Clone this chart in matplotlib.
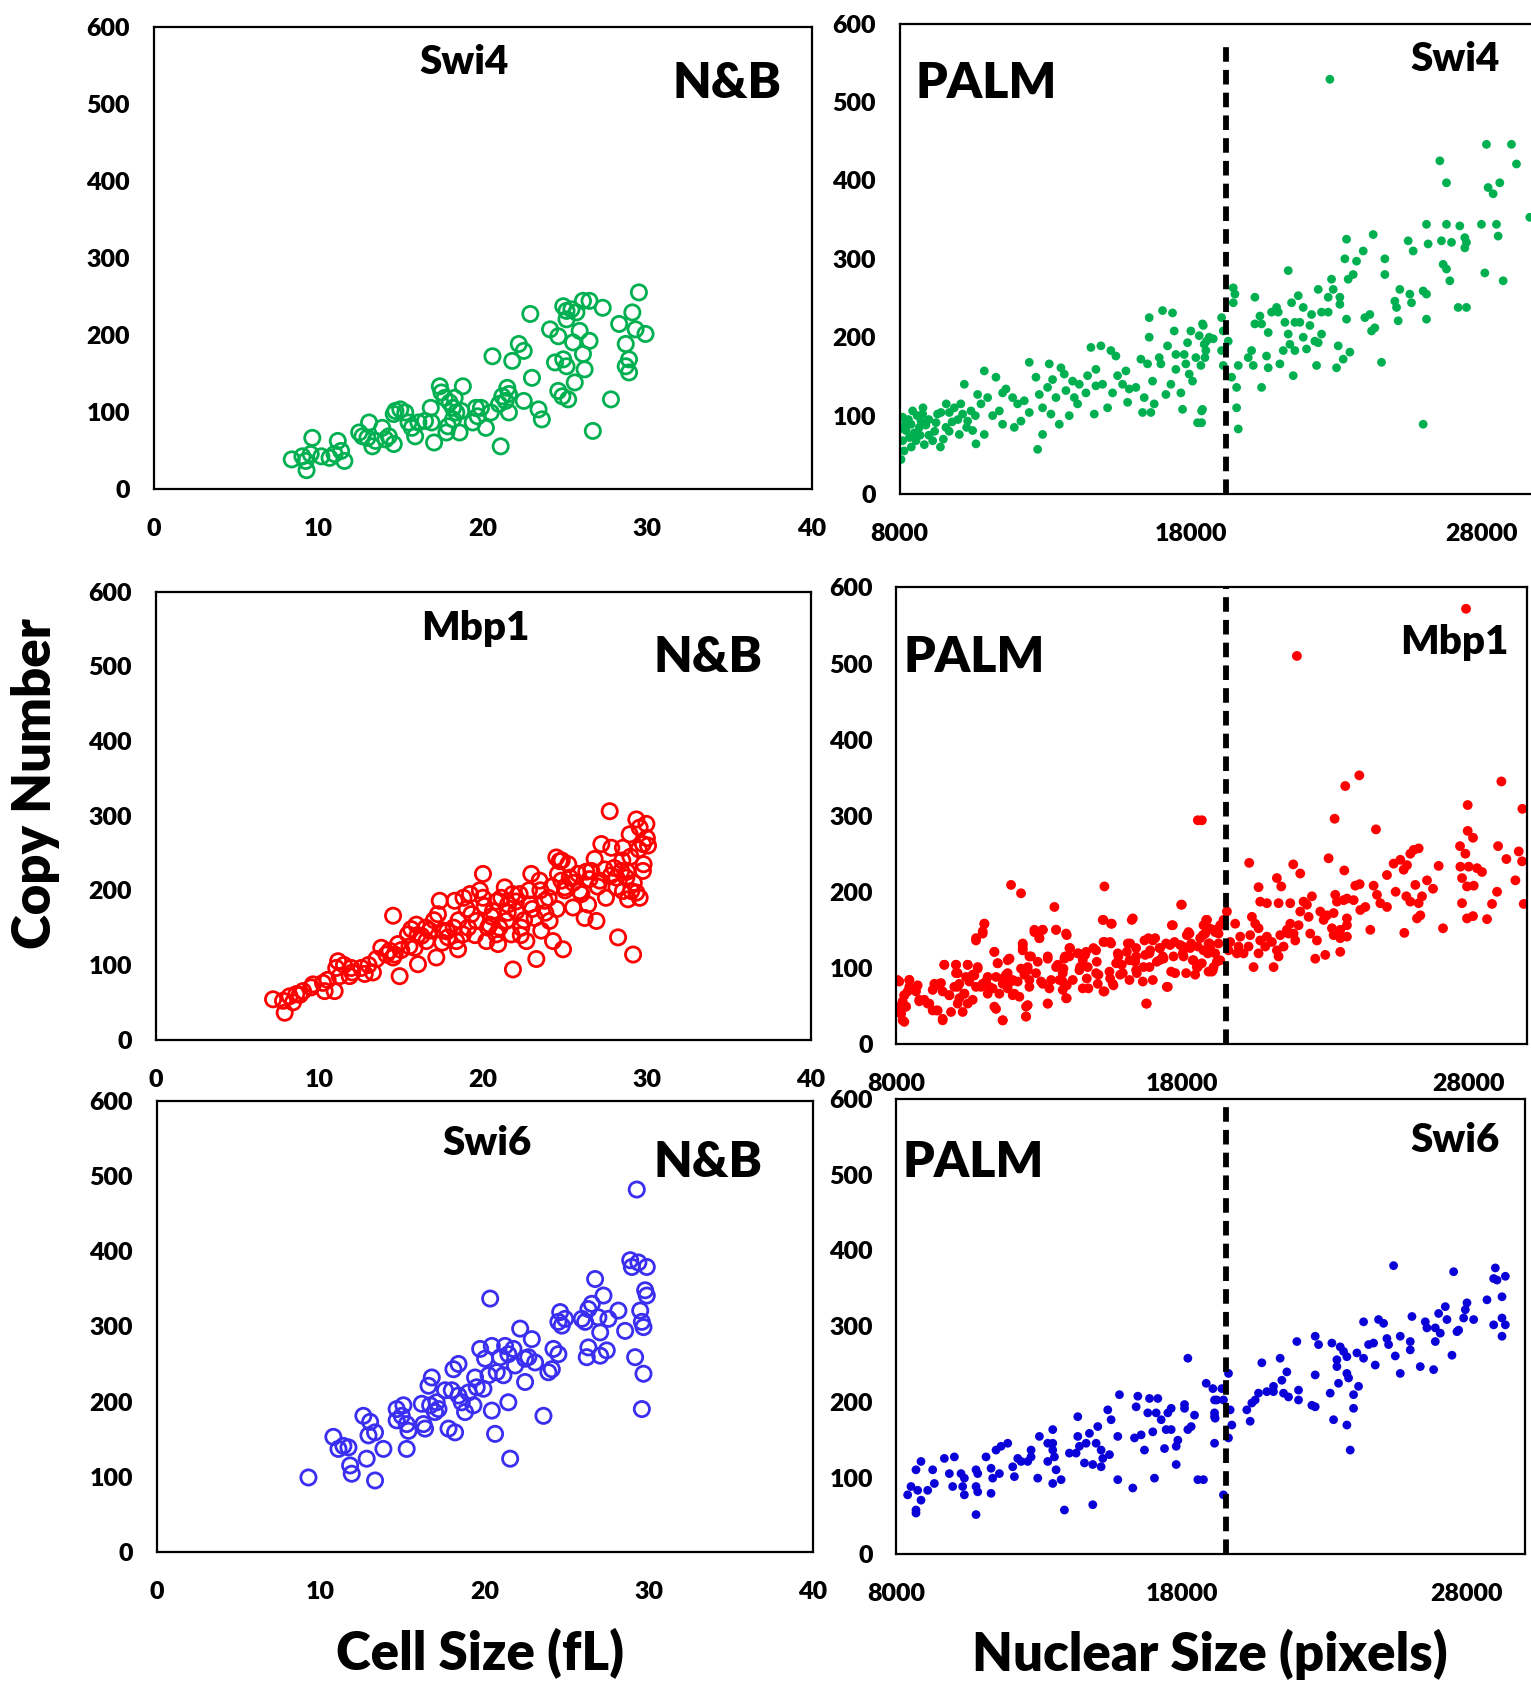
import numpy as np
import matplotlib
matplotlib.use("Agg")
import matplotlib.pyplot as plt

plt.rcParams['font.family'] = ['Lato', 'DejaVu Sans']
plt.rcParams['font.weight'] = 'heavy'

# ---- data: (size, copy number) ----
swi4_nb = [(8.4, 38), (9.3, 24), (9.05, 42), (9.65, 66), (9.55, 45), (9.25, 36), (10.2, 42), (10.7, 40),
           (11.0, 45), (11.2, 62), (11.4, 49), (11.6, 36), (12.5, 73), (13.1, 86), (13.0, 66), (13.5, 62),
           (13.9, 79), (14.1, 64), (14.6, 58), (14.3, 68), (12.7, 68), (13.3, 55), (14.7, 101), (15.0, 103),
           (15.3, 99), (14.6, 97), (15.5, 86), (15.7, 79), (15.9, 68), (16.1, 86), (16.5, 88), (16.9, 86),
           (17.05, 60), (16.85, 105), (17.4, 133), (17.5, 125), (17.7, 118), (18.0, 112), (18.2, 105),
           (18.4, 99), (18.2, 90), (17.9, 81), (17.8, 73), (18.6, 73), (18.8, 133), (18.3, 118), (18.7, 101),
           (19.6, 105), (19.9, 105), (19.7, 94), (19.4, 86), (20.2, 79), (20.5, 99), (20.6, 172), (21.1, 55),
           (21.0, 110), (21.2, 120), (21.5, 131), (21.6, 123), (21.4, 114), (21.6, 99), (21.8, 166),
           (22.2, 188), (22.5, 179), (22.9, 227), (22.5, 114), (23.0, 144), (23.4, 103), (23.6, 90),
           (24.1, 207), (24.6, 198), (24.9, 237), (25.1, 231), (25.4, 233), (25.7, 229), (25.1, 220),
           (26.1, 244), (26.5, 244), (27.3, 235), (25.9, 205), (25.5, 190), (26.5, 192), (26.1, 175),
           (24.4, 164), (24.9, 168), (25.1, 159), (26.2, 155), (25.6, 138), (24.6, 127), (24.85, 120),
           (25.2, 116), (26.7, 75), (27.8, 116), (29.5, 255), (29.1, 229), (28.3, 214), (29.3, 207),
           (29.9, 201), (28.7, 188), (28.9, 168), (28.7, 159), (28.9, 151)]

swi4_palm = [(8045, 44), (8100, 98), (8445, 106), (8390, 89), (8675, 85), (8216, 81), (8560, 68), (8846, 63),
             (8100, 68), (8789, 102), (8730, 93), (8330, 72), (8010, 83), (8300, 95), (8500, 78), (8900, 88),
             (9000, 75), (9300, 102), (9500, 70), (9800, 92), (10100, 115), (8150, 55), (8600, 100),
             (8200, 90), (8400, 60), (8700, 75), (9000, 95), (9200, 80), (9400, 60), (9700, 80), (10000, 95),
             (10300, 85), (10600, 100), (8800, 110), (9600, 115),
             (9133, 68), (9247, 91), (9419, 104), (9590, 85), (9705, 104), (9877, 110), (10048, 76),
             (10163, 102), (10220, 140), (10335, 93), (10450, 106), (10506, 81), (10621, 64), (10678, 127),
             (10793, 115), (10907, 157), (10907, 76), (11022, 123), (11194, 100), (11308, 149), (11423, 106),
             (11537, 89), (11537, 129), (11651, 134), (11880, 123), (11938, 85), (12052, 115), (12167, 93),
             (12281, 119), (12453, 168), (12453, 104), (12682, 149), (12740, 57), (12797, 127), (12911, 110),
             (12911, 76), (13083, 136), (13140, 166), (13197, 102), (13254, 146), (13369, 123), (13484, 89),
             (13541, 161), (13655, 153), (13713, 132), (13827, 100), (13942, 144), (14000, 123), (14113, 115),
             (14171, 140), (14400, 129), (14457, 151), (14571, 187), (14686, 102), (14743, 159), (14743, 138),
             (14915, 189), (14972, 140), (15144, 110), (15258, 183), (15315, 129), (15430, 176), (15487, 151),
             (15659, 140), (15774, 157), (15831, 117), (15888, 134), (16117, 136), (16289, 172), (16346, 104),
             (16403, 123), (16517, 166), (16575, 225), (16575, 200), (16632, 104), (16690, 144), (16746, 115),
             (16919, 174), (16976, 166), (17033, 234), (17148, 127), (17205, 189), (17320, 140), (17376, 231),
             (17434, 208), (17491, 178), (17491, 159), (17663, 129), (17720, 108), (17777, 178), (17834, 166),
             (17892, 193), (17949, 153), (18006, 208), (18064, 144), (18178, 174), (18236, 91), (18293, 202),
             (18350, 164), (18407, 217), (18465, 191), (18522, 183), (18636, 200), (18407, 108),
             (22784, 529), (18433, 215), (18547, 195), (18776, 198), (18490, 174), (18375, 106), (18375, 91),
             (19062, 225), (19120, 208), (19062, 183), (19120, 164), (19291, 195), (19463, 263), (19520, 255),
             (19463, 244), (19406, 149), (19578, 136), (19578, 110), (19635, 164), (19635, 83), (19978, 174),
             (20093, 183), (20150, 164), (20207, 251), (20207, 217), (20379, 227), (20436, 217), (20436, 136),
             (20608, 176), (20665, 206), (20665, 161), (20780, 232), (20952, 238), (21009, 232), (21066, 166),
             (21181, 183), (21238, 219), (21352, 285), (21352, 204), (21410, 191), (21467, 244), (21524, 151),
             (21581, 219), (21581, 183), (21696, 253), (21753, 219), (21868, 238), (21868, 200), (21982, 185),
             (22097, 215), (22154, 229), (22268, 195), (22326, 164), (22383, 193), (22383, 261), (22497, 204),
             (22497, 232), (22726, 232), (22726, 251), (22841, 274), (22898, 261), (23012, 161), (23070, 189),
             (23127, 251), (23127, 242), (23241, 172), (23356, 223), (23356, 325), (23299, 300), (23413, 274),
             (23471, 181), (23585, 280), (23700, 297), (23929, 310), (23986, 225), (24157, 229), (24215, 208),
             (24329, 212), (24272, 331), (24558, 168), (24673, 300), (24673, 280), (25016, 246), (25074, 238),
             (25131, 221), (25188, 261), (25531, 255), (25589, 244), (25474, 323), (25646, 310), (25989, 89),
             (25989, 259), (26104, 255), (26104, 223), (26104, 344), (26161, 319), (26562, 425), (26619, 323),
             (26676, 293), (26791, 287), (26791, 397), (26791, 344), (26906, 272), (26963, 321), (27192, 238),
             (27478, 238), (27249, 342), (27421, 327), (27478, 321), (27421, 314), (27993, 344), (28108, 282),
             (28165, 446), (28222, 391), (28394, 383), (28509, 344), (28566, 329), (28623, 397), (28738, 272),
             (29024, 446), (29196, 421), (29654, 353)]

mbp1_nb = [(7.17, 54), (7.88, 36), (7.78, 52), (8.18, 58), (8.59, 61), (8.39, 50), (9.0, 65), (9.61, 74),
           (10.22, 76), (10.32, 65), (10.93, 65), (11.14, 105), (11.03, 96), (11.24, 85), (11.85, 85),
           (11.95, 96), (12.56, 96), (12.77, 88), (13.27, 90), (13.48, 108), (13.78, 123), (14.09, 114),
           (14.29, 119), (14.6, 114), (14.5, 166), (14.9, 85), (14.8, 128), (15.41, 141), (15.61, 148),
           (15.92, 154), (15.82, 123), (16.02, 101), (16.23, 139), (16.53, 132), (16.74, 146), (17.14, 110),
           (17.24, 168), (17.35, 186), (17.55, 146), (17.85, 137), (18.26, 186), (18.36, 132), (18.47, 121),
           (18.77, 141), (19.08, 150), (19.28, 168), (19.59, 159), (19.99, 222), (19.99, 190), (20.09, 179),
           (20.2, 132), (20.4, 154), (20.6, 172), (20.81, 141), (20.91, 128), (21.11, 190), (21.32, 204),
           (21.42, 159), (21.52, 181), (21.72, 141), (21.82, 94), (22.03, 172), (22.23, 195), (22.33, 150),
           (22.64, 132), (22.84, 181), (22.94, 222), (23.15, 163), (23.25, 108), (23.45, 213), (23.55, 146),
           (23.76, 186), (24.06, 159), (24.27, 132), (24.47, 244), (24.57, 222), (24.67, 239), (24.78, 213),
           (24.88, 121), (24.98, 204), (25.29, 217), (25.49, 177), (25.8, 222), (25.9, 199), (26.2, 163),
           (26.41, 181), (26.61, 226), (26.81, 242), (26.92, 159), (27.12, 213), (27.22, 262), (27.42, 228),
           (27.73, 306), (27.83, 257), (28.14, 204), (28.24, 137), (28.44, 226), (28.54, 257), (28.75, 217),
           (28.95, 275), (29.05, 199), (29.16, 114), (29.36, 295), (29.56, 284), (29.76, 262), (29.97, 289),
           (30.07, 260), (29.76, 226), (29.56, 190), (29.36, 197), (28.85, 188), (28.14, 217), (28.54, 199),
           (18.5, 160), (19.0, 175), (19.5, 140), (20.5, 165), (21.0, 150), (21.5, 170), (22.0, 185),
           (22.5, 160), (23.0, 175), (23.5, 200), (24.0, 190), (24.5, 175), (25.0, 200), (25.5, 210),
           (26.0, 195), (26.5, 215), (27.0, 205), (27.5, 190), (28.0, 230), (28.5, 240), (29.0, 245),
           (29.5, 255), (30.0, 270), (16.5, 150), (17.0, 160), (17.5, 130), (16.0, 140), (15.5, 125),
           (15.0, 120), (14.5, 110), (13.0, 100), (12.0, 90), (11.5, 100), (10.5, 80), (9.5, 70), (8.8, 60),
           (24.2, 205), (25.2, 235), (24.8, 240), (22.8, 200), (21.8, 195), (20.8, 185), (19.8, 200),
           (19.2, 195), (18.8, 190), (26.3, 225), (27.8, 220), (28.8, 225), (29.2, 210), (29.8, 235),
           (23.8, 170), (22.3, 140), (20.3, 150), (18.2, 150), (17.8, 145)]

mbp1_palm = [(18543, 294), (12008, 209), (12358, 198), (15276, 207), (13525, 180), (17960, 183), (11075, 158),
             (11016, 145), (10783, 136), (12825, 147), (13117, 150), (13000, 139), (13584, 150), (13934, 145),
             (15218, 163), (15509, 158), (16268, 165), (17668, 156), (18251, 145), (18835, 163), (18952, 152),
             (11424, 121), (12417, 130), (12417, 123), (11891, 110), (11541, 106), (12650, 115), (13292, 112),
             (14050, 126), (14342, 119), (14634, 121), (14984, 123), (15276, 134), (15509, 132), (15743, 119),
             (16093, 132), (16384, 126), (16676, 136), (16968, 136), (17201, 126), (17435, 132), (17727, 134),
             (18018, 128), (18310, 132), (18543, 128), (18718, 143), (18952, 132), (18543, 101), (18134, 93),
             (17610, 95), (17201, 110), (16851, 101), (16618, 82), (16735, 53), (17493, 75), (16151, 110),
             (15918, 93), (15567, 79), (15276, 69), (14984, 93), (14692, 101), (14400, 97), (14167, 84),
             (13934, 60), (13817, 93), (13584, 101), (13409, 84), (13292, 53), (13117, 79), (12883, 93),
             (12591, 101), (12650, 75), (12533, 49), (12533, 36), (12300, 62), (11950, 112), (11891, 93),
             (11716, 79), (11599, 66), (11424, 49), (11716, 31), (11250, 75), (11016, 79), (10841, 101),
             (10491, 104), (10432, 88), (10199, 79), (10083, 104), (10024, 75), (10374, 66), (10491, 53),
             (10141, 53), (9674, 104), (9849, 64), (9616, 33), (9499, 79), (9324, 79), (9266, 71), (9149, 53),
             (9382, 44), (8974, 58), (8799, 58), (8682, 73), (8449, 84), (8390, 69), (8274, 64), (8215, 53),
             (8040, 84), (8099, 49), (8332, 49), (8215, 31), (8157, 40), (8449, 75), (11191, 88), (10725, 90),
             (10783, 75), (11483, 88), (12066, 84), (12125, 66), (10083, 93), (14050, 115), (14517, 110),
             (15685, 106), (16384, 115), (16851, 119), (17318, 115), (18018, 119), (18368, 110), (18893, 119),
             (19068, 97), (13817, 82), (14517, 73), (15043, 79), (15451, 95), (16151, 84), (16968, 84),
             (16384, 97),
             (8099, 82), (8449, 84), (8274, 64), (8215, 56), (8332, 49), (8157, 40), (8274, 29), (8741, 77),
             (8682, 69), (8799, 56), (9091, 53), (9266, 44), (9382, 77), (9557, 80), (9616, 69), (9441, 44),
             (9849, 64), (9908, 42), (9616, 31), (9674, 104), (10083, 104), (10141, 93), (10141, 75),
             (10199, 60), (10374, 66), (10491, 104), (10549, 82), (10666, 91), (10666, 58), (10316, 42),
             (10841, 99), (10783, 139), (11016, 148), (11075, 158), (10958, 75), (11133, 82), (11191, 66),
             (11366, 73), (11424, 121), (11483, 46), (11541, 106), (11716, 86), (11716, 31), (11833, 91),
             (11950, 112), (11891, 73), (12008, 82), (12066, 64), (12241, 82), (12417, 126), (12417, 132),
             (12358, 99), (12475, 91), (12592, 97), (12592, 51), (12533, 36), (12650, 84), (12708, 115),
             (12825, 150), (12942, 108), (13000, 139), (13117, 150), (13058, 82), (13292, 115), (13350, 73),
             (13292, 53), (13584, 150), (13642, 104), (13700, 84), (13817, 71), (13876, 112),
             (13957, 143), (14074, 126), (13899, 115), (13841, 99), (13957, 77), (13957, 60), (14366, 119),
             (14424, 101), (14600, 117), (14658, 86), (14716, 73), (14891, 126), (15008, 108), (15066, 91),
             (15241, 163), (15533, 158), (15241, 134), (15475, 134), (15241, 69), (15475, 86), (15591, 77),
             (15766, 115), (15883, 104), (15825, 91), (16058, 121), (16175, 132), (16233, 163), (16350, 108),
             (16408, 93), (16641, 101), (16700, 117), (16758, 53), (16816, 139), (16875, 123), (17050, 139),
             (17108, 108), (17225, 126), (17342, 112), (17458, 75), (17575, 130), (17634, 156), (17692, 115),
             (17750, 93), (17925, 130), (17983, 183), (18042, 115), (18158, 143), (18217, 147), (18275, 126),
             (18392, 110), (18450, 91), (18508, 101), (18625, 139), (18742, 156), (18858, 163), (18975, 126),
             (19034, 95), (19150, 147), (19209, 108), (19267, 132), (19326, 156),
             (27927, 572), (22010, 510), (18684, 294), (24193, 353), (23702, 339), (23329, 296), (24776, 282),
             (29164, 345), (27985, 314), (27985, 280), (28172, 271), (29899, 309), (27717, 260), (29048, 260),
             (27904, 250), (25978, 250), (26270, 257), (26095, 255), (25628, 242), (25395, 237), (25861, 235),
             (25745, 229), (25161, 222), (23119, 244), (23668, 228), (20341, 238), (21882, 236), (22127, 224),
             (21310, 218), (21462, 207), (20668, 206), (24053, 208), (24204, 210), (24694, 208), (24811, 196),
             (26153, 209), (26562, 215), (26772, 204), (26970, 234), (27729, 233), (28021, 233), (28312, 231),
             (28487, 226), (27787, 218), (27962, 207), (28196, 208), (29771, 253), (29888, 240), (29654, 215),
             (29339, 243), (29013, 200), (25465, 200), (25838, 194), (25978, 187), (26270, 185), (26387, 194),
             (26328, 169), (26212, 165), (27787, 185), (28837, 184), (27962, 165), (28172, 168), (28662, 164),
             (29946, 184), (27122, 152), (25768, 146), (25161, 180), (24928, 185), (24578, 150), (24228, 176),
             (24403, 180), (23994, 189), (23760, 191), (23352, 196), (23410, 187), (23760, 165), (23760, 156),
             (23527, 150), (23236, 152), (23294, 143), (23527, 139), (23760, 141), (23527, 121), (23002, 117),
             (22652, 112), (22711, 136), (22477, 145), (22419, 167), (22360, 183), (22535, 194), (22244, 187),
             (22127, 174), (22069, 156), (21952, 136), (21719, 145), (21777, 158), (21660, 150), (21427, 143),
             (21310, 123), (21194, 101), (21135, 134), (20960, 141), (20901, 128), (20726, 136), (20668, 152),
             (20552, 158), (20435, 167), (20726, 187), (20960, 185), (21369, 185), (21777, 185), (22828, 174),
             (22945, 163), (23061, 169), (23294, 172), (23644, 189), (20376, 143), (20318, 128), (20026, 141),
             (19968, 128), (19851, 158), (19676, 134), (19618, 123), (19910, 119), (20143, 119), (20493, 101),
             (20668, 119), (19560, 174), (19443, 163), (19268, 145), (19093, 150), (18859, 163), (18801, 145),
             (18918, 132), (18743, 123), (19151, 119), (19093, 101), (18918, 95), (19326, 110), (18684, 106),
             (21894, 145), (21369, 115), (21544, 128)]

swi6_nb = [(29.27, 482), (9.25, 99), (10.77, 153), (11.08, 137), (11.38, 141), (11.69, 139), (11.79, 115),
           (11.89, 104), (13.31, 95), (12.8, 124), (12.6, 181), (13.01, 173), (12.91, 155), (13.31, 159),
           (13.82, 137), (14.63, 190), (14.63, 175), (15.04, 195), (14.94, 181), (15.24, 170), (15.35, 161),
           (15.24, 137), (16.16, 197), (16.26, 170), (16.36, 164), (16.57, 221), (16.77, 232), (16.67, 195),
           (16.97, 186), (17.07, 199), (17.18, 190), (17.58, 215), (17.79, 164), (17.99, 215), (18.09, 243),
           (18.4, 250), (18.19, 159), (18.4, 208), (18.6, 199), (18.8, 186), (19.01, 212), (19.31, 195),
           (19.41, 232), (19.51, 219), (19.72, 270), (19.92, 217), (20.02, 257), (20.33, 337), (20.23, 235),
           (20.43, 274), (20.43, 188), (20.63, 157), (20.73, 239), (20.94, 259), (21.14, 235), (21.24, 274),
           (21.44, 263), (21.44, 199), (21.55, 124), (21.75, 270), (21.85, 248), (22.16, 297), (22.46, 226),
           (22.46, 257), (22.66, 259), (22.87, 283), (23.07, 252), (23.58, 181), (23.88, 239), (24.09, 243),
           (24.19, 270), (24.49, 263), (24.6, 319), (24.49, 306), (24.7, 301), (24.9, 310), (25.92, 310),
           (26.12, 306), (26.22, 259), (26.32, 272), (26.32, 323), (26.53, 330), (26.73, 363), (26.93, 312),
           (27.04, 292), (27.04, 261), (27.24, 341), (27.44, 268), (27.54, 310), (28.15, 321), (28.56, 294),
           (28.87, 388), (28.97, 379), (29.37, 385), (29.88, 379), (29.48, 321), (29.58, 306), (29.68, 299),
           (29.78, 348), (29.88, 341), (29.17, 259), (29.68, 237), (29.58, 190)]

swi6_palm = [(8392, 78), (8509, 89), (8684, 111), (8860, 122), (8743, 84), (8860, 71), (8684, 58), (8684, 54),
             (9094, 84), (9269, 111), (9328, 93), (9679, 126), (9854, 106), (10030, 128), (9971, 89),
             (10264, 106), (10381, 100), (10322, 89), (10381, 78), (10790, 111), (10790, 89), (10790, 52),
             (10849, 106), (10849, 82), (11141, 128), (11317, 113), (11375, 100), (11317, 80), (11492, 137),
             (11609, 106), (11668, 142), (11902, 146), (12077, 115), (12136, 102), (12253, 126), (12370, 122),
             (12603, 122), (12721, 137), (12721, 128), (12955, 100), (13013, 155), (13306, 146), (13306, 122),
             (13481, 164), (13481, 146), (13481, 137), (13540, 128), (13598, 111), (13481, 93), (13774, 98),
             (13891, 58), (14066, 133), (14300, 133), (14359, 181), (14359, 155), (14417, 142), (14593, 120),
             (14651, 146), (14768, 159), (14885, 118), (14885, 65), (15002, 146), (15060, 168), (15177, 137),
             (15177, 115), (15236, 126), (15470, 131), (15411, 190), (15528, 177), (15762, 155), (15762, 98),
             (15821, 210), (16289, 87), (16348, 153), (16465, 208), (16406, 194), (16581, 157), (16698, 137),
             (16815, 186), (16874, 205), (17049, 100), (16990, 161), (17108, 186), (17167, 205), (17284, 177),
             (17401, 139), (17459, 164), (17518, 186), (17635, 192), (17635, 164), (17811, 142), (17811, 118),
             (17869, 150), (18103, 197), (18103, 192), (18220, 164), (18220, 258), (18337, 168), (18454, 183),
             (18571, 98), (18863, 225), (19097, 218), (19156, 181), (19156, 146), (19156, 203), (19156, 186),
             (18767, 98), (19235, 203), (19177, 179), (19411, 218), (19469, 203), (19469, 78), (19645, 238),
             (19645, 153), (19703, 190), (19762, 170), (20288, 190), (20405, 175), (20464, 199), (20581, 203),
             (20698, 212), (20815, 252), (20990, 214), (21224, 221), (21224, 214), (21458, 258), (21517, 229),
             (21575, 212), (21692, 240), (21751, 207), (22043, 280), (22102, 216), (22102, 203), (22570, 196),
             (22687, 194), (22687, 287), (22804, 276), (22687, 236), (23213, 212), (23272, 278), (23330, 177),
             (23447, 256), (23447, 247), (23564, 273), (23505, 225), (23681, 267), (23798, 238), (23798, 260),
             (23857, 232), (23798, 170), (23915, 137), (24032, 210), (24032, 192), (24207, 221), (24149, 265),
             (24383, 258), (24383, 306), (24559, 276), (24734, 278), (24793, 249), (24909, 309), (25085, 304),
             (25202, 284), (25261, 276), (25495, 261), (25670, 287), (25670, 238), (26021, 280), (26021, 269),
             (26080, 313), (26372, 247), (26548, 306), (26606, 298), (26840, 243), (26899, 280), (26899, 298),
             (27074, 291), (27016, 317), (27250, 326), (27308, 309), (27542, 372), (27484, 262), (27659, 293),
             (27717, 295), (27893, 311), (27952, 322), (28010, 331), (28244, 309), (28712, 335), (28946, 302),
             (29005, 377), (28946, 363), (29063, 361), (29356, 366), (29239, 339), (29239, 311), (29356, 302),
             (29239, 287), (25436, 380)]

nb_ticks = [0, 10, 20, 30, 40]
palm_ticks = [8000, 18000, 28000]
copy_ticks = [0, 100, 200, 300, 400, 500, 600]

green = '#00B050'
red = '#FF0000'
blue_nb = '#3a2ef0'
blue_palm = '#0a00d8'

W, H = 1426.0, 1568.0  # layout measured on the shrunk reference


def rect(l, r, t, b):
    return [l / W, 1 - b / H, (r - l) / W, (b - t) / H]


fig = plt.figure(figsize=(15.31, 16.84), dpi=100)


def style(ax):
    for s in ax.spines.values():
        s.set_linewidth(1.6)
        s.set_color('black')
    ax.tick_params(length=0, labelsize=18)
    ax.tick_params(axis='x', pad=21)
    ax.tick_params(axis='y', pad=17)
    for lab in ax.get_xticklabels() + ax.get_yticklabels():
        lab.set_fontweight('heavy')


def nb_panel(r, pts, color):
    ax = fig.add_axes(r)
    pts = np.array(pts)
    ax.scatter(pts[:, 0], pts[:, 1], s=120, facecolors='none', edgecolors=color, linewidths=2.0)
    ax.set_xlim(0, 40)
    ax.set_ylim(0, 600)
    ax.set_xticks(nb_ticks)
    ax.set_yticks(copy_ticks)
    style(ax)
    return ax


def palm_panel(r, pts, color, xmax, cut, ymax_line=1.0, size=40):
    ax = fig.add_axes(r)
    pts = np.array(pts)
    ax.scatter(pts[:, 0], pts[:, 1], s=size, color=color, edgecolors='none')
    ax.axvline(cut, ymin=0.0, ymax=ymax_line, color='black', lw=4.2, ls=(0, (2.5, 1.4)))
    ax.set_xlim(8000, xmax)
    ax.set_ylim(0, 600)
    ax.set_xticks(palm_ticks)
    ax.set_yticks(copy_ticks)
    style(ax)
    return ax


nb_panel(rect(143, 756, 25, 455), swi4_nb, green)
palm_panel(rect(838, 1431, 22, 460), swi4_palm, green, 29880, 19200, 0.965)
nb_panel(rect(145, 755, 551, 968), mbp1_nb, red)
palm_panel(rect(835, 1422, 547, 972), mbp1_palm, red, 30050, 19540, size=50)
nb_panel(rect(146, 757, 1025, 1445), swi6_nb, blue_nb)
palm_panel(rect(835, 1420, 1023, 1447), swi6_palm, blue_palm, 30030, 19560)


def label(x, y, s, size, **kw):
    fig.text(x / W, 1 - y / H, s, fontsize=size, fontweight='heavy', ha='center', va='center', **kw)


label(432, 58, 'Swi4', 29)
label(677, 78, 'N&B', 36)
label(919, 78, 'PALM', 36)
label(1355, 55, 'Swi4', 29)
label(443, 585, 'Mbp1', 29)
label(659, 612, 'N&B', 36)
label(907, 612, 'PALM', 36)
label(1355, 598, 'Mbp1', 29)
label(454, 1065, 'Swi6', 29)
label(659, 1082, 'N&B', 36)
label(906, 1082, 'PALM', 36)
label(1355, 1062, 'Swi6', 29)

label(33, 730, 'Copy Number', 38, rotation=90)
label(447, 1540, 'Cell Size (fL)', 38)
label(1127, 1540, 'Nuclear Size (pixels)', 38)

fig.savefig('out.png', dpi=100)
